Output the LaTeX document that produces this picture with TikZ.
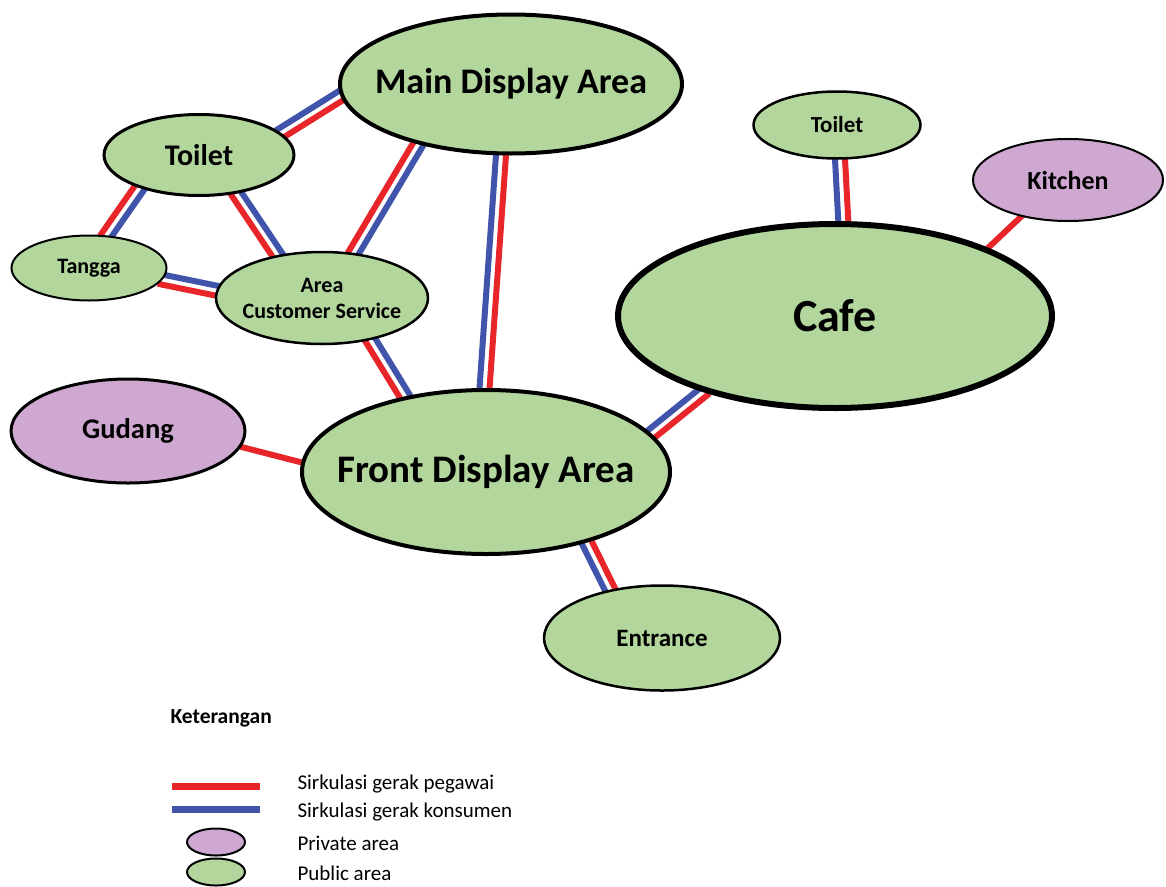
\documentclass[tikz,border=0pt]{standalone}
\usepackage{fontspec}
\setmainfont{Carlito}
\usetikzlibrary{shapes.geometric, calc}

\definecolor{hijau}{RGB}{178,214,156}
\definecolor{ungu}{RGB}{207,168,210}
\definecolor{merah}{RGB}{232,38,42}
\definecolor{biru}{RGB}{63,84,170}

\pgfdeclarelayer{background}
\pgfsetlayers{background,main}

\tikzset{
    area/.style={ellipse, draw=black, fill=hijau, line width=2.5pt,
        inner xsep=-30pt, inner ysep=0pt},
    private/.style={area, fill=ungu},
    pegawai/.style={draw=merah, line width=6pt},
    konsumen/.style={draw=biru, line width=6pt},
    ket/.style={anchor=west, font=\fontsize{21}{24}\selectfont}
}

% blue on the left, red on the right (seen from #1 to #2)
\newcommand{\jalur}[2]{%
    \draw [konsumen, shorten <=-4pt, shorten >=-4pt]
        ($(#1)!5pt!90:(#2)$) -- ($(#2)!5pt!-90:(#1)$);
    \draw [pegawai, shorten <=-4pt, shorten >=-4pt]
        ($(#1)!5pt!-90:(#2)$) -- ($(#2)!5pt!90:(#1)$);
}

\begin{document}
\begin{tikzpicture} [x=1pt, y=-1pt]

        \useasboundingbox (0,0) rectangle (1166,886);

        % Main Display Area
        \node (main) [area, line width=4pt,
            minimum width=342pt, minimum height=139pt,
            font=\fontsize{36}{40}\bfseries] at (511,84) {Main Display Area};

        % Toilet (left)
        \node (toiletA) [area, line width=3pt,
            minimum width=190pt, minimum height=81pt,
            font=\fontsize{30}{34}\bfseries] at (199,155) {Toilet};

        % Tangga
        \node (tangga) [area, line width=2pt,
            minimum width=155pt, minimum height=65pt,
            font=\fontsize{22}{26}\bfseries] at (89,268) {Tangga};

        % Area Customer Service
        \node (acs) [area,
            minimum width=212pt, minimum height=92pt, align=center,
            font=\fontsize{22}{26}\bfseries] at (322,298) {Area\\Customer Service};

        % Gudang
        \node (gudang) [private, line width=3pt,
            minimum width=234pt, minimum height=104pt,
            font=\fontsize{28.5}{32}\bfseries] at (128,431) {Gudang};

        % Front Display Area
        \node (front) [area, line width=4pt,
            minimum width=368pt, minimum height=164pt,
            font=\fontsize{39}{44}\bfseries] at (486,472) {Front Display Area};

        % Entrance
        \node (entrance) [area,
            minimum width=236pt, minimum height=105pt,
            font=\fontsize{25}{28}\bfseries] at (662,638) {Entrance};

        % Toilet (cafe)
        \node (toiletB) [area,
            minimum width=167pt, minimum height=67pt,
            font=\fontsize{23}{26}\bfseries] at (837,125) {Toilet};

        % Kitchen
        \node (kitchen) [private, line width=2pt,
            minimum width=190pt, minimum height=82pt,
            font=\fontsize{26}{30}\bfseries] at (1068,180) {Kitchen};

        % Cafe
        \node (cafe) [area, line width=6pt,
            minimum width=434pt, minimum height=184pt,
            font=\fontsize{46}{50}\bfseries] at (835,316) {Cafe};

        % Sirkulasi
        \begin{pgfonlayer}{background}
            \jalur{toiletA.15}{main.184}
            \jalur{toiletA.209}{tangga.62}
            \jalur{toiletA.314}{acs.136}
            \jalur{tangga.351}{acs.176}
            \jalur{main.213}{acs.55}
            \jalur{front.91}{main.262}
            \jalur{acs.319}{front.137}
            \jalur{front.13}{cafe.210}
            \jalur{entrance.137}{front.325}
            \jalur{cafe.85}{toiletB.275}
            \draw [pegawai, shorten <=-4pt, shorten >=-4pt]
                (gudang.352) -- (front.177);
            \draw [pegawai, shorten <=-4pt, shorten >=-4pt]
                (kitchen.218) -- (cafe.24);
        \end{pgfonlayer}

        % Keterangan
        \node (judul) [anchor=west, font=\fontsize{21.5}{24}\bfseries]
            at (167,718) {Keterangan};

        \coordinate (r1) at (172,786);
        \coordinate (r2) at (260,786);
        \coordinate (b1) at (172,809);
        \coordinate (b2) at (260,809);
        \draw [pegawai, line width=7pt] (r1) -- (r2);
        \draw [konsumen, line width=7pt] (b1) -- (b2);

        \node (kPrivate) [private, line width=2pt,
            minimum width=58pt, minimum height=27pt] at (216,842) {};
        \node (kPublic) [area, line width=2pt,
            minimum width=58pt, minimum height=27pt] at (216,872) {};

        \node (tPegawai) [ket] at (294,784) {Sirkulasi gerak pegawai};
        \node (tKonsumen) [ket] at (294,812) {Sirkulasi gerak konsumen};
        \node (tPrivate) [ket] at (294,843) {Private area};
        \node (tPublic) [ket] at (294,873) {Public area};

\end{tikzpicture}
\end{document}
